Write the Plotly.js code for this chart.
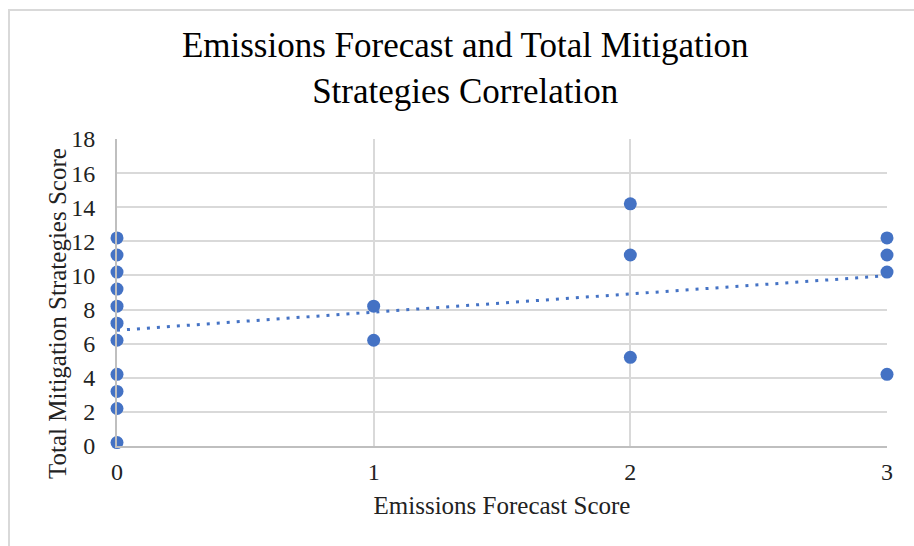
<!DOCTYPE html>
<html>
<head>
<meta charset="utf-8">
<script src="https://cdn.plot.ly/plotly-3.0.1.min.js"></script>
<style>
html,body{margin:0;padding:0;background:#fff;}
#wrap{position:relative;width:914px;height:546px;}
#chart{position:absolute;left:0;top:0;width:914px;height:546px;}
#frame{position:absolute;left:8px;top:9px;width:920px;height:560px;border-left:2px solid #d9d9d9;border-top:2px solid #d9d9d9;pointer-events:none;}
</style>
</head>
<body>
<div id="wrap"><div id="chart"></div><div id="frame"></div></div>
<script>
// Data
const forecastScore = [0,0,0,0,0,0,0,0,0,0,0, 1,1, 2,2,2, 3,3,3,3];
const mitigationScore = [0.2,2.2,3.2,4.2,6.2,7.2,8.2,9.2,10.2,11.2,12.2, 8.2,6.2, 14.2,11.2,5.2, 12.2,11.2,10.2,4.2];
const xTicks = [0,1,2,3];
const yTicks = [0,2,4,6,8,10,12,14,16,18];

// Linear trendline (least squares) from the data
const n = forecastScore.length;
const mx = forecastScore.reduce((a,b)=>a+b,0)/n;
const my = mitigationScore.reduce((a,b)=>a+b,0)/n;
let sxy=0, sxx=0;
for(let i=0;i<n;i++){ sxy+=(forecastScore[i]-mx)*(mitigationScore[i]-my); sxx+=(forecastScore[i]-mx)**2; }
const slope = sxy/sxx, intercept = my - slope*mx;
const trendX = [xTicks[0], xTicks[xTicks.length-1]];
const trendY = trendX.map(x=>intercept+slope*x);

const blue = '#4472C4';
const serif = '"Liberation Serif", "Times New Roman", serif';

const traces = [
  {x: trendX, y: trendY, mode:'lines', type:'scatter',
   line:{color:blue, width:3, dash:'3px,7px'}, hoverinfo:'skip', showlegend:false, cliponaxis:false},
  {x: forecastScore, y: mitigationScore, mode:'markers', type:'scatter',
   marker:{color:blue, size:13}, showlegend:false, cliponaxis:false}
];

const layout = {
  width:914, height:546,
  margin:{l:117, r:27, t:139, b:100},
  paper_bgcolor:'rgba(0,0,0,0)', plot_bgcolor:'#fff',
  title:{text:'Emissions Forecast and Total Mitigation<br>Strategies Correlation',
         font:{family:serif, size:35, color:'#000'}, x:0.509, xref:'container', xanchor:'center',
         y:0.895, yref:'container', yanchor:'middle'},
  xaxis:{range:[0,3], tickvals:xTicks, ticktext:xTicks.map(String),
         showgrid:true, gridcolor:'#d9d9d9', gridwidth:2,
         zeroline:false, showline:true, linecolor:'#bfbfbf', linewidth:2, mirror:false,
         ticks:'', ticklabelstandoff:3,
         tickfont:{family:serif, size:24, color:'#222'},
         title:{text:'Emissions Forecast Score', font:{family:serif, size:25, color:'#222'}, standoff:13}},
  yaxis:{range:[0,18], tickvals:yTicks, ticktext:yTicks.map(String),
         showgrid:true, gridcolor:'#d9d9d9', gridwidth:2,
         zeroline:false, showline:true, linecolor:'#bfbfbf', linewidth:2,
         ticks:'', ticklabelstandoff:15,
         tickfont:{family:serif, size:24, color:'#222'}},
  annotations:[{text:'Total Mitigation Strategies Score', textangle:-90, showarrow:false,
         xref:'paper', yref:'paper', x:(57-117)/770, y:(446-314)/307, xanchor:'center', yanchor:'middle',
         font:{family:serif, size:25, color:'#222'}}],
  font:{family:serif}
};

Plotly.newPlot('chart', traces, layout, {displayModeBar:false, staticPlot:true});
</script>
</body>
</html>
